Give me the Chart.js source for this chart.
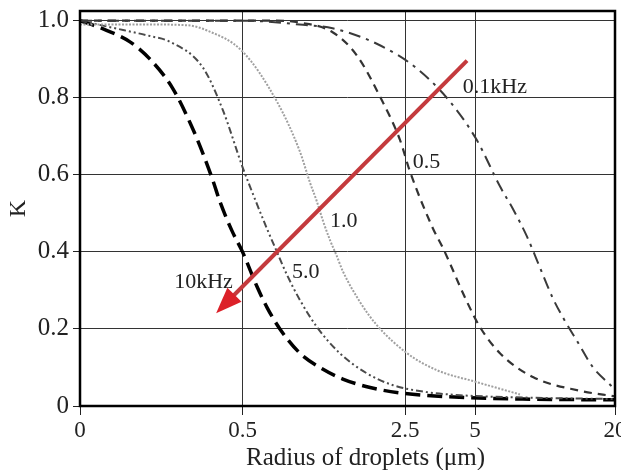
<!DOCTYPE html>
<html>
<head>
<meta charset="utf-8">
<title>K vs radius of droplets</title>
<script src="https://cdn.jsdelivr.net/npm/chart.js@4.4.1/dist/chart.umd.min.js"></script>
<style>
  html, body { margin: 0; padding: 0; background: #fff; }
  canvas { display: block; }
</style>
</head>
<body>
<canvas id="kChart" width="621" height="470"></canvas>
<script>
// x axis is logarithmic, the "0" label sits at 0.1 um
const xTickValues = [0.1, 0.5, 2.5, 5, 20];
const xTickLabels = ["0", "0.5", "2.5", "5", "20"];
const yTickValues = [0, 0.2, 0.4, 0.6, 0.8, 1.0];

// 10 kHz
const r10k = [0.1, 0.13, 0.164, 0.2, 0.25, 0.3, 0.338, 0.373, 0.4, 0.45, 0.5, 0.577, 0.637, 0.724, 0.883, 1.076, 1.35, 1.77, 2.38, 3.79, 8, 20];
const k10k = [1.0, 0.975, 0.945, 0.9, 0.825, 0.73, 0.655, 0.585, 0.53, 0.455, 0.40, 0.31, 0.256, 0.20, 0.137, 0.10, 0.07, 0.048, 0.034, 0.024, 0.018, 0.016];

// 5.0 kHz
const r5k = [0.1, 0.155, 0.2, 0.244, 0.338, 0.412, 0.5, 0.538, 0.637, 0.703, 0.777, 0.883, 1.045, 1.31, 1.71, 2.22, 3.1, 4.31, 8, 20];
const k5k = [1.0, 0.975, 0.96, 0.945, 0.878, 0.767, 0.62, 0.57, 0.46, 0.40, 0.34, 0.275, 0.205, 0.137, 0.085, 0.054, 0.036, 0.028, 0.022, 0.018];

// 1.0 kHz
const r1k = [0.1, 0.2, 0.289, 0.35, 0.5, 0.703, 0.883, 0.975, 1.045, 1.11, 1.19, 1.27, 1.35, 1.6, 1.89, 2.55, 3.43, 5.09, 7.8];
const k1k = [0.99, 0.99, 0.988, 0.975, 0.92, 0.79, 0.66, 0.58, 0.53, 0.48, 0.43, 0.39, 0.35, 0.27, 0.21, 0.137, 0.093, 0.062, 0.03];

// 0.5 kHz
const r05k = [0.1, 0.7, 0.88, 1.22, 1.55, 2.0, 2.38, 2.62, 3.3, 3.64, 4.62, 5.25, 6.4, 8.87, 14, 20];
const k05k = [1.0, 1.0, 0.995, 0.97, 0.91, 0.79, 0.69, 0.61, 0.46, 0.41, 0.27, 0.205, 0.137, 0.075, 0.04, 0.025];

// 0.1 kHz
const r01k = [0.1, 0.5, 0.88, 1.22, 1.89, 2.81, 3.9, 5.09, 6.4, 7.3, 8.36, 9.5, 10.8, 12.2, 13.7, 16.1, 19.6, 20];
const k01k = [1.0, 1.0, 0.99, 0.98, 0.94, 0.876, 0.79, 0.69, 0.57, 0.51, 0.44, 0.36, 0.28, 0.22, 0.17, 0.10, 0.047, 0.04];

const SERIF = "'Liberation Serif', 'Times New Roman', serif";

function toPoints(rs, ks) {
  return rs.map((r, i) => ({ x: r, y: ks[i] }));
}

function curve(label, rs, ks, color, width, dash) {
  return {
    label: label,
    data: toPoints(rs, ks),
    borderColor: color,
    borderWidth: width,
    borderDash: dash,
    pointRadius: 0,
    fill: false,
    cubicInterpolationMode: "monotone",
  };
}

// frame, frequency labels, red arrow and x title
const overlay = {
  id: "overlay",
  afterDatasetsDraw(chart, args, opts) {
    const { ctx, chartArea: a, scales } = chart;
    const xs = scales.x, ys = scales.y;
    ctx.save();

    ctx.strokeStyle = "#000";
    ctx.lineWidth = 2.5;
    ctx.setLineDash([]);
    ctx.strokeRect(a.left, a.top, a.right - a.left, a.bottom - a.top);

    ctx.font = "22px " + SERIF;
    ctx.fillStyle = "#222";
    ctx.textAlign = "left";
    ctx.textBaseline = "middle";
    opts.labels.forEach(l => {
      ctx.fillText(l.text, xs.getPixelForValue(l.r), ys.getPixelForValue(l.k));
    });

    // arrow from low to high frequency
    const x0 = xs.getPixelForValue(opts.arrow.from[0]);
    const y0 = ys.getPixelForValue(opts.arrow.from[1]);
    const x1 = xs.getPixelForValue(opts.arrow.to[0]);
    const y1 = ys.getPixelForValue(opts.arrow.to[1]);
    const ang = Math.atan2(y1 - y0, x1 - x0);
    const headLen = 26, headHalf = 10;
    const bx = x1 - headLen * Math.cos(ang), by = y1 - headLen * Math.sin(ang);
    ctx.strokeStyle = "#c43a3d";
    ctx.lineWidth = 4;
    ctx.beginPath();
    ctx.moveTo(x0, y0);
    ctx.lineTo(bx + 4 * Math.cos(ang), by + 4 * Math.sin(ang));
    ctx.stroke();
    ctx.fillStyle = "#dc2129";
    ctx.beginPath();
    ctx.moveTo(x1, y1);
    ctx.lineTo(bx + headHalf * Math.sin(ang), by - headHalf * Math.cos(ang));
    ctx.lineTo(bx - headHalf * Math.sin(ang), by + headHalf * Math.cos(ang));
    ctx.closePath();
    ctx.fill();

    ctx.font = "25px " + SERIF;
    ctx.fillStyle = "#222";
    ctx.textAlign = "center";
    ctx.textBaseline = "alphabetic";
    ctx.fillText("Radius of droplets (\u03bcm)", (a.left + a.right) / 2 + 18, chart.height - 5);

    ctx.restore();
  }
};

const ctx = document.getElementById("kChart").getContext("2d");

new Chart(ctx, {
  type: "line",
  data: {
    datasets: [
      curve("0.1kHz", r01k, k01k, "#3a3a3a", 2, [12, 6, 3, 6]),
      curve("0.5", r05k, k05k, "#333333", 2.2, [8, 6]),
      curve("1.0", r1k, k1k, "#a0a0a0", 2, [2, 1.5]),
      curve("5.0", r5k, k5k, "#4a4a4a", 2, [7, 3, 2, 3, 2, 3]),
      curve("10kHz", r10k, k10k, "#000000", 3.5, [15, 7]),
    ],
  },
  options: {
    responsive: false,
    animation: false,
    devicePixelRatio: 1,
    layout: { padding: { top: 11, right: 6, left: 0, bottom: 0 } },
    plugins: {
      legend: { display: false },
      tooltip: { enabled: false },
      overlay: {
        labels: [
          { text: "0.1kHz", r: 4.43, k: 0.826 },
          { text: "0.5", r: 2.70, k: 0.632 },
          { text: "1.0", r: 1.19, k: 0.479 },
          { text: "5.0", r: 0.816, k: 0.347 },
          { text: "10kHz", r: 0.254, k: 0.321 },
        ],
        arrow: { from: [4.62, 0.896], to: [0.385, 0.241] },
      },
    },
    scales: {
      x: {
        type: "logarithmic",
        min: 0.1,
        max: 20,
        afterBuildTicks: s => { s.ticks = xTickValues.map(v => ({ value: v })); },
        afterFit: s => { s.height = 64; s.paddingLeft = 0; s.paddingRight = 0; },
        border: { display: false },
        grid: { color: "#333", lineWidth: 1, tickColor: "#222", tickLength: 9 },
        ticks: {
          autoSkip: false,
          maxRotation: 0,
          padding: 2,
          color: "#222",
          font: { family: SERIF, size: 23 },
          callback: v => xTickLabels[xTickValues.indexOf(v)],
        },
      },
      y: {
        min: 0,
        max: 1.025,
        afterBuildTicks: s => { s.ticks = yTickValues.map(v => ({ value: v })); },
        afterFit: s => { s.width = 80; s.paddingTop = 0; s.paddingBottom = 0; },
        border: { display: false },
        grid: { color: "#333", lineWidth: 1, tickColor: "#222", tickLength: 7 },
        ticks: {
          padding: 4,
          color: "#222",
          font: { family: SERIF, size: 25 },
          callback: v => (v === 0 ? "0" : v.toFixed(1)),
        },
        title: {
          display: true,
          text: "K",
          color: "#222",
          font: { family: SERIF, size: 24 },
          padding: { top: 4, bottom: 0 },
        },
      },
    },
  },
  plugins: [overlay],
});
</script>
</body>
</html>
